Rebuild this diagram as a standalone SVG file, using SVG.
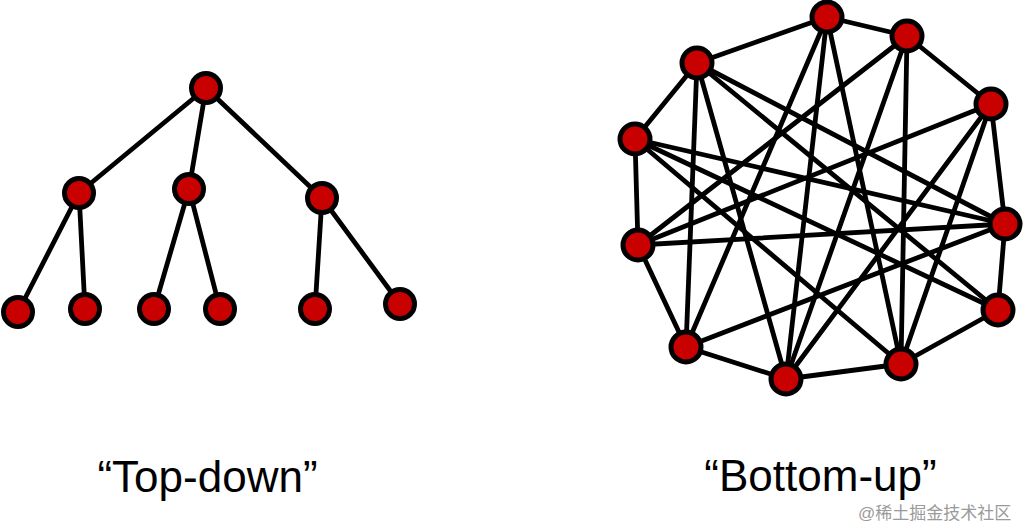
<svg xmlns="http://www.w3.org/2000/svg" width="1024" height="530" viewBox="0 0 1024 530">
<style>
.e{stroke:#000;stroke-width:4.8;stroke-linecap:round;fill:none}
.n{fill:#c80000;stroke:#000;stroke-width:5}
.t{font-family:"Liberation Sans",Arial,sans-serif;font-size:44px;fill:#000;text-anchor:middle}
.w{font-family:"Liberation Sans","Noto Sans CJK SC",sans-serif;font-size:17px;fill:#9a9a9a}
</style>
<rect width="1024" height="530" fill="#fff"/>
<g id="connectors">
<g id="tree-edges">
<line class="e" x1="206" y1="88" x2="79" y2="193"/>
<line class="e" x1="206" y1="88" x2="189" y2="189"/>
<line class="e" x1="206" y1="88" x2="322" y2="198"/>
<line class="e" x1="79" y1="193" x2="18" y2="312"/>
<line class="e" x1="79" y1="193" x2="85" y2="309"/>
<line class="e" x1="189" y1="189" x2="154" y2="309"/>
<line class="e" x1="189" y1="189" x2="220" y2="309"/>
<line class="e" x1="322" y1="198" x2="315" y2="309"/>
<line class="e" x1="322" y1="198" x2="400" y2="304"/>
</g>
<g id="net-edges">
<line class="e" x1="697" y1="63" x2="827" y2="17"/>
<line class="e" x1="827" y1="17" x2="907" y2="36"/>
<line class="e" x1="907" y1="36" x2="991" y2="104"/>
<line class="e" x1="991" y1="104" x2="1005" y2="224"/>
<line class="e" x1="1005" y1="224" x2="998" y2="310"/>
<line class="e" x1="998" y1="310" x2="901" y2="364"/>
<line class="e" x1="901" y1="364" x2="786" y2="379"/>
<line class="e" x1="786" y1="379" x2="686" y2="347"/>
<line class="e" x1="686" y1="347" x2="638" y2="245"/>
<line class="e" x1="638" y1="245" x2="635" y2="139"/>
<line class="e" x1="635" y1="139" x2="697" y2="63"/>
<line class="e" x1="697" y1="63" x2="686" y2="347"/>
<line class="e" x1="697" y1="63" x2="786" y2="379"/>
<line class="e" x1="697" y1="63" x2="1005" y2="224"/>
<line class="e" x1="697" y1="63" x2="998" y2="310"/>
<line class="e" x1="635" y1="139" x2="1005" y2="224"/>
<line class="e" x1="635" y1="139" x2="998" y2="310"/>
<line class="e" x1="635" y1="139" x2="901" y2="364"/>
<line class="e" x1="638" y1="245" x2="1005" y2="224"/>
<line class="e" x1="638" y1="245" x2="907" y2="36"/>
<line class="e" x1="638" y1="245" x2="991" y2="104"/>
<line class="e" x1="686" y1="347" x2="827" y2="17"/>
<line class="e" x1="686" y1="347" x2="1005" y2="224"/>
<line class="e" x1="786" y1="379" x2="827" y2="17"/>
<line class="e" x1="786" y1="379" x2="907" y2="36"/>
<line class="e" x1="786" y1="379" x2="991" y2="104"/>
<line class="e" x1="901" y1="364" x2="827" y2="17"/>
<line class="e" x1="901" y1="364" x2="907" y2="36"/>
<line class="e" x1="901" y1="364" x2="991" y2="104"/>
</g>
</g>
<g id="tree-root"><circle class="n" cx="206" cy="88" r="14.5"/></g>
<g id="tree-l2a"><circle class="n" cx="79" cy="193" r="14.5"/></g>
<g id="tree-l2b"><circle class="n" cx="189" cy="189" r="14.5"/></g>
<g id="tree-l2c"><circle class="n" cx="322" cy="198" r="14.5"/></g>
<g id="tree-l3a"><circle class="n" cx="18" cy="312" r="14.5"/></g>
<g id="tree-l3b"><circle class="n" cx="85" cy="309" r="14.5"/></g>
<g id="tree-l3c"><circle class="n" cx="154" cy="309" r="14.5"/></g>
<g id="tree-l3d"><circle class="n" cx="220" cy="309" r="14.5"/></g>
<g id="tree-l3e"><circle class="n" cx="315" cy="309" r="14.5"/></g>
<g id="tree-l3f"><circle class="n" cx="400" cy="304" r="14.5"/></g>
<g id="net-a"><circle class="n" cx="827" cy="17" r="15"/></g>
<g id="net-b"><circle class="n" cx="907" cy="36" r="15"/></g>
<g id="net-c"><circle class="n" cx="697" cy="63" r="15"/></g>
<g id="net-d"><circle class="n" cx="991" cy="104" r="15"/></g>
<g id="net-e"><circle class="n" cx="635" cy="139" r="15"/></g>
<g id="net-f"><circle class="n" cx="1005" cy="224" r="15"/></g>
<g id="net-g"><circle class="n" cx="638" cy="245" r="15"/></g>
<g id="net-h"><circle class="n" cx="998" cy="310" r="15"/></g>
<g id="net-i"><circle class="n" cx="686" cy="347" r="15"/></g>
<g id="net-j"><circle class="n" cx="786" cy="379" r="15"/></g>
<g id="net-k"><circle class="n" cx="901" cy="364" r="15"/></g>
<g id="labels">
<text class="t" x="207.5" y="492">“Top-down”</text>
<text class="t" x="820.5" y="491">“Bottom-up”</text>
<text class="w" x="858" y="519">@稀土掘金技术社区</text>
</g>
</svg>
